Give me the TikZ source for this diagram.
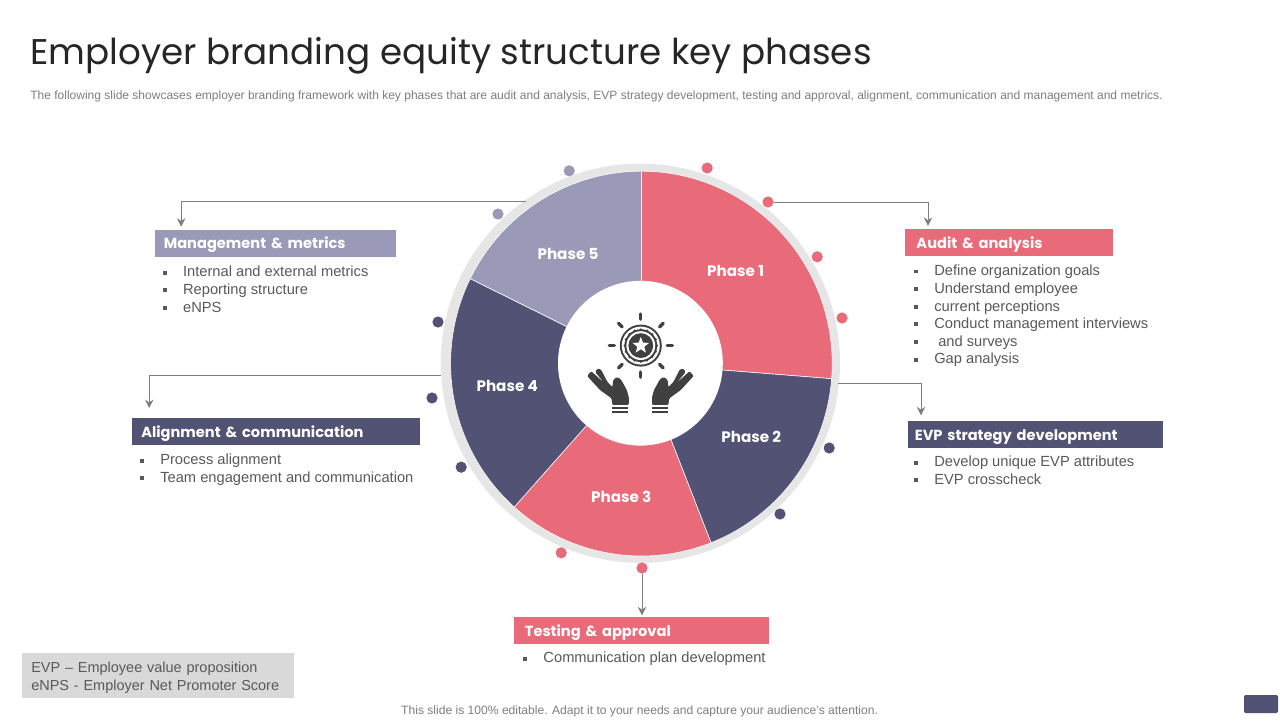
\documentclass[tikz,border=0pt]{standalone}
\usepackage{fontspec}
\usepackage{tikz}
\usetikzlibrary{arrows.meta}
\usetikzlibrary{positioning}
\usetikzlibrary{shapes.geometric}
\setmainfont{Liberation Sans}
\newfontfamily\headfont{Poppins}
\definecolor{mpink}{HTML}{E96A78}
\definecolor{mnavy}{HTML}{525275}
\definecolor{mlav}{HTML}{9A9AB8}
\definecolor{mgrey}{HTML}{7F7F7F}
\definecolor{mtext}{HTML}{595959}
\definecolor{mring}{HTML}{E7E6E6}
\definecolor{micon}{HTML}{404040}
\newcommand{\sqitem}{\makebox[0.5cm][l]{\rule[1.6pt]{2.8pt}{2.8pt}}}
\tikzset{
  headbox/.style={anchor=west, minimum height=0.67cm, inner sep=0pt, text=white, text height=10pt, text depth=2pt,
    font=\headfont\bfseries\fontsize{10.4}{12}\selectfont},
  sqlist/.style={anchor=north west, inner sep=0pt, align=left, text=mtext,
    font=\fontsize{10.45}{12.55}\selectfont},
  phaselabel/.style={text=white, inner sep=0pt, font=\headfont\bfseries\fontsize{10.8}{12}\selectfont},
  dot/.style={circle, minimum size=0.28cm, inner sep=0pt},
  link/.style={draw=mgrey, line width=0.6pt, -{Stealth[length=6pt, width=6pt]}}
}

\begin{document}
\begin{tikzpicture}
      \useasboundingbox (0, 0) rectangle (32, 18);
      \fill [white] (0, 0) rectangle (32, 18);

      \node (title) at (0.75, 16.6) [anchor=west, inner sep=0pt, text=black!85,
        font=\headfont\fontsize{25.4}{30}\selectfont] {Employer branding equity structure key phases};
      \node (subtitle) at (0.75, 15.58) [anchor=west, inner sep=0pt, text=mgrey,
        font=\fontsize{8.55}{10}\selectfont] {The following slide showcases employer branding framework with key phases that are audit and analysis, EVP strategy development, testing and approval, alignment, communication and management and metrics.};

      % wheel
      \coordinate (hub) at (16.01, 8.92);
      \coordinate (pie) at (16.035, 8.91);
      \fill [mring] (hub) circle (4.99);
      \foreach \from/\to/\col in {90/-4.5/mpink, -4.5/-68.6/mnavy, -68.6/-131.8/mpink, -131.8/-206.2/mnavy, -206.2/-270/mlav} {
        \draw [white, thin, fill=\col] (pie) -- +(\from:4.77 and 4.81) arc (\from:\to:4.77 and 4.81) -- cycle;
      }
      \fill [white] (hub) circle (2.06);

      \node [phaselabel] (phaseA) at (18.39, 11.22) {Phase 1};
      \node [phaselabel] (phaseB) at (18.78, 7.08) {Phase 2};
      \node [phaselabel] (phaseC) at (15.53, 5.58) {Phase 3};
      \node [phaselabel] (phaseD) at (12.68, 8.35) {Phase 4};
      \node [phaselabel] (phaseE) at (14.2, 11.65) {Phase 5};

      % icon
      \coordinate (sun) at (16.02, 9.36);
      \foreach \a in {0, 45, ..., 315} {
        \draw [micon, line width=2.4pt, line cap=round] (sun) ++(\a:0.66) -- ++(\a:0.13);
      }
      \fill [micon] (sun) circle (0.525);
      \fill [white] (sun) circle (0.475);
      \fill [micon] (sun) circle (0.41);
      \foreach \a in {0, 22.5, ..., 337.5} {
        \fill [micon] (sun) ++(\a:0.4) circle (0.035);
      }
      \fill [white] (sun) circle (0.36);
      \fill [micon] (sun) circle (0.31);
      \node (sunstar) at (sun) [star, star points=5, star point ratio=2.4, fill=white, inner sep=0pt, minimum size=0.44cm] {};
      \foreach \flip/\move in {1/0, -1/32.02} {
        \begin{scope}[shift={(\move, 0)}, xscale=\flip]
          \fill [micon, rounded corners=0.8pt] (14.68, 8.60) -- (14.78, 8.72) -- (15.10, 8.43) -- (14.88, 8.70)
            -- (14.93, 8.78) -- (15.02, 8.77) -- (15.18, 8.46) -- (15.31, 8.32) -- (15.33, 8.50) -- (15.42, 8.575)
            -- (15.52, 8.52) -- (15.67, 8.25) -- (15.72, 8.07) -- (15.72, 7.875) -- (15.31, 7.875) -- (15.29, 8.04) -- (15.0, 8.25) -- cycle;
          \draw [micon, line width=1.4pt] (15.31, 7.79) -- (15.71, 7.79);
          \draw [micon, line width=1.4pt] (15.31, 7.69) -- (15.71, 7.69);
        \end{scope}
      }

      % dots
      \node [dot, fill=mpink] (dotA) at (17.68, 13.8) {};
      \node [dot, fill=mpink] (dotB) at (19.2, 12.95) {};
      \node [dot, fill=mpink] (dotC) at (20.43, 11.58) {};
      \node [dot, fill=mpink] (dotD) at (21.05, 10.05) {};
      \node [dot, fill=mnavy] (dotE) at (20.73, 6.8) {};
      \node [dot, fill=mnavy] (dotF) at (19.5, 5.15) {};
      \node [dot, fill=mpink] (dotG) at (16.05, 3.8) {};
      \node [dot, fill=mpink] (dotH) at (14.03, 4.18) {};
      \node [dot, fill=mnavy] (dotI) at (11.53, 6.32) {};
      \node [dot, fill=mnavy] (dotJ) at (10.8, 8.05) {};
      \node [dot, fill=mnavy] (dotK) at (10.95, 9.95) {};
      \node [dot, fill=mlav] (dotL) at (12.45, 12.65) {};
      \node [dot, fill=mlav] (dotM) at (14.23, 13.73) {};

      % headers
      \node [headbox, fill=mlav, minimum width=6.03cm, text width=5.6cm, align=left] (mgmt) at (3.875, 11.92) {Management \& metrics};
      \node [headbox, fill=mnavy, minimum width=7.2cm, text width=6.75cm, align=left] (align) at (3.3, 7.21) {Alignment \& communication};
      \node [headbox, fill=mpink, minimum width=5.2cm, text width=4.65cm, align=left] (audit) at (22.63, 11.94) {Audit \& analysis};
      \node [headbox, fill=mnavy, minimum width=6.38cm, text width=6.05cm, align=left] (evp) at (22.7, 7.135) {EVP strategy development};
      \node [headbox, fill=mpink, minimum width=6.38cm, text width=5.85cm, align=left] (testing) at (12.85, 2.24) {Testing \& approval};

      % lists
      \node [sqlist] (mgmtlist) at (4.07, 11.35) {\sqitem Internal and external metrics\\ \sqitem Reporting structure\\ \sqitem eNPS};
      \node [sqlist] (alignlist) at (3.5, 6.65) {\sqitem Process alignment\\ \sqitem Team engagement and communication};
      \node [sqlist] (auditlist) at (22.85, 11.38) {\sqitem Define organization goals\\ \sqitem Understand employee\\ \sqitem current perceptions\\ \sqitem Conduct management interviews\\ \sqitem \hspace{0.1cm}and surveys\\ \sqitem Gap analysis};
      \node [sqlist] (evplist) at (22.85, 6.6) {\sqitem Develop unique EVP attributes\\ \sqitem EVP crosscheck};
      \node [sqlist] (testlist) at (13.08, 1.7) {\sqitem Communication plan development};

      % connectors
      \coordinate (mgmtIn) at ([xshift=0.655cm]mgmt.north west);
      \coordinate (alignIn) at ([xshift=0.43cm]align.north west);
      \coordinate (auditIn) at ([xshift=0.57cm]audit.north west);
      \coordinate (evpIn) at ([xshift=0.325cm]evp.north west);
      \coordinate (testIn) at (testing.north -| dotG);
      \coordinate (mgmtOut) at (13.15, 12.97);
      \coordinate (alignOut) at (11.03, 8.62);
      \coordinate (evpOut) at (20.95, 8.42);
      \draw [link, shorten >=2pt] (mgmtOut) -| (mgmtIn);
      \draw [link, shorten >=7pt] (alignOut) -| (alignIn);
      \draw [link, shorten >=2pt] (dotB) -| (auditIn);
      \draw [link, shorten >=4pt] (evpOut) -| (evpIn);
      \draw [link, shorten >=1pt] (dotG) -- (testIn);

      % legend and footer
      \node (legend) at (0.55, 1.12) [anchor=west, fill=black!15, minimum width=6.8cm, minimum height=1.12cm,
        text width=6.35cm, inner sep=0pt, align=left, text=mtext, font=\fontsize{10.3}{12.8}\selectfont]
        {\rule{0pt}{11pt}EVP -- Employee value proposition\\ eNPS - Employer Net Promoter Score};
      \node (footer) at (15.99, 0.22) [inner sep=0pt, text=mgrey, font=\fontsize{8.6}{10}\selectfont]
        {This slide is 100\% editable. Adapt it to your needs and capture your audience’s attention.};
      \fill [mnavy, rounded corners=1pt] (31.1, 0.175) rectangle (31.95, 0.625);
\end{tikzpicture}
\end{document}
